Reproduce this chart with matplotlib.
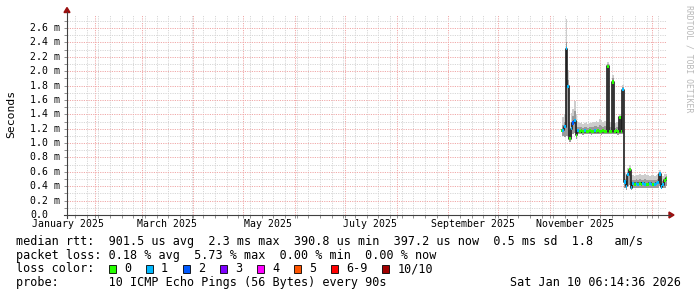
import datetime as dt
import pandas as pd
import matplotlib.pyplot as plt
import matplotlib.dates as mdates
import matplotlib.transforms as mtrans
from matplotlib.patches import Polygon, Rectangle
from matplotlib.lines import Line2D

W, H = 697, 297
MONO = "DejaVu Sans Mono"

# graph covers the last 360 days up to the time stamp
t_end = dt.datetime(2026, 1, 10, 6, 14, 36)
t_start = t_end - dt.timedelta(days=360)

month_labels = ["January 2025", "March 2025", "May 2025", "July 2025",
                "September 2025", "November 2025"]
label_months = [dt.datetime(2025, 1, 1), dt.datetime(2025, 3, 1), dt.datetime(2025, 5, 1),
                dt.datetime(2025, 7, 1), dt.datetime(2025, 9, 1), dt.datetime(2025, 11, 1)]

y_ticks = [0.0, 0.2, 0.4, 0.6, 0.8, 1.0, 1.2, 1.4, 1.6, 1.8, 2.0, 2.2, 2.4, 2.6]
y_labels = ["0.0", "0.2 m", "0.4 m", "0.6 m", "0.8 m", "1.0 m", "1.2 m", "1.4 m",
            "1.6 m", "1.8 m", "2.0 m", "2.2 m", "2.4 m", "2.6 m"]

# daily samples (ms), only the last two months have data
dates = pd.date_range("2025-11-08", "2026-01-10", freq="D")
median = [1.18, 1.18, 1.23, 2.31, 1.79, 1.06, 1.20, 1.28, 1.31, 1.11,
          1.17, 1.16, 1.17, 1.16, 1.17, 1.16, 1.16, 1.17, 1.16, 1.16,
          1.17, 1.16, 1.17, 1.16, 1.16, 1.17, 1.16, 1.16, 2.07, 1.16,
          1.16, 1.85, 1.16, 1.17, 1.16, 1.36, 1.16, 1.74, 0.46, 0.40,
          0.56, 0.63, 0.38, 0.44, 0.43, 0.44, 0.43, 0.44, 0.43, 0.44,
          0.43, 0.42, 0.43, 0.44, 0.43, 0.42, 0.43, 0.44, 0.45, 0.57,
          0.39, 0.42, 0.48, 0.51]
loss = [0, 1, 1, 1, 1, 0, 1, 2, 1, 0,
        1, 0, 0, 0, 1, 0, 0, 0, 0, 0,
        1, 0, 0, 0, 0, 0, 0, 0, 0, 0,
        0, 0, 0, 0, 0, 0, 0, 1, 1, 1,
        1, 0, 1, 1, 0, 1, 1, 0, 0, 1,
        1, 0, 0, 1, 1, 0, 1, 1, 1, 1,
        1, 1, 0, 0]
smoke_lo = [1.12, 1.10, 1.08, 1.10, 1.10, 1.02, 1.08, 1.12, 1.14, 1.06,
            1.12, 1.12, 1.12, 1.11, 1.12, 1.12, 1.12, 1.12, 1.11, 1.12,
            1.12, 1.12, 1.12, 1.12, 1.11, 1.12, 1.12, 1.12, 1.12, 1.12,
            1.12, 1.12, 1.12, 1.12, 1.11, 1.12, 1.12, 1.12, 0.37, 0.35,
            0.40, 0.42, 0.35, 0.38, 0.38, 0.38, 0.38, 0.38, 0.38, 0.38,
            0.38, 0.37, 0.38, 0.38, 0.38, 0.37, 0.38, 0.38, 0.38, 0.40,
            0.36, 0.37, 0.38, 0.40]
smoke_mid = [1.26, 1.25, 1.30, 2.40, 1.88, 1.18, 1.30, 1.38, 1.45, 1.24,
             1.23, 1.22, 1.23, 1.21, 1.22, 1.23, 1.21, 1.22, 1.22, 1.23,
             1.24, 1.24, 1.23, 1.25, 1.24, 1.23, 1.24, 1.23, 2.10, 1.23,
             1.22, 1.90, 1.21, 1.22, 1.23, 1.38, 1.22, 1.78, 0.50, 0.47,
             0.60, 0.66, 0.47, 0.49, 0.48, 0.50, 0.49, 0.50, 0.49, 0.49,
             0.50, 0.49, 0.48, 0.48, 0.49, 0.48, 0.48, 0.49, 0.50, 0.60,
             0.45, 0.47, 0.52, 0.54]
smoke_hi = [1.39, 1.36, 1.40, 2.73, 2.02, 1.30, 1.42, 1.48, 1.58, 1.40,
            1.30, 1.28, 1.29, 1.27, 1.28, 1.29, 1.27, 1.28, 1.28, 1.29,
            1.30, 1.31, 1.30, 1.33, 1.32, 1.30, 1.31, 1.30, 2.13, 1.30,
            1.29, 1.95, 1.28, 1.29, 1.30, 1.40, 1.29, 1.81, 0.58, 0.54,
            0.66, 0.70, 0.56, 0.55, 0.54, 0.56, 0.55, 0.57, 0.56, 0.55,
            0.57, 0.56, 0.55, 0.54, 0.56, 0.55, 0.54, 0.56, 0.57, 0.63,
            0.51, 0.54, 0.57, 0.57]

loss_names = ["0", "1", "2", "3", "4", "5", "6-9", "10/10"]
loss_colors = ["#26ff00", "#00b8ff", "#0059ff", "#7e00ff", "#ff00ff", "#ff5500",
               "#ff0000", "#a10000"]


def fx(px):
    return px / W


def fy(py):
    return 1 - py / H


fig = plt.figure(figsize=(W / 100, H / 100), dpi=100)
fig.patch.set_facecolor("white")
ax = fig.add_axes([fx(67), fy(215), 600 / W, 200 / H])
ax.set_facecolor("white")
ax.set_xlim(t_start, t_end)
ax.set_ylim(0, 200 / 71.9)

# grid: weeks / months, 0.1 / 0.2 ms
ax.xaxis.set_major_locator(mdates.MonthLocator())
ax.xaxis.set_minor_locator(mdates.WeekdayLocator(byweekday=mdates.MO))
ax.set_yticks(y_ticks)
ax.set_yticks([v / 10 for v in range(1, 28, 2)], minor=True)
ax.grid(which="minor", color="#d6d6d6", linestyle=(0, (1.2, 1.2)), linewidth=0.7)
ax.grid(which="major", color="#f0a8a8", linestyle=(0, (1.2, 1.2)), linewidth=0.7)
ax.tick_params(which="both", labelbottom=False, labelleft=False,
               length=2, width=0.7, color="#909090")
for s in ax.spines.values():
    s.set_visible(False)

# smoke
ax.fill_between(dates, smoke_lo, smoke_hi, step="mid", color="#cdcdcd", lw=0, zorder=2)
ax.fill_between(dates, smoke_lo, smoke_mid, step="mid", color="#9a9a9a", lw=0, zorder=2)

# median line and loss coloured bands
ax.plot(dates, median, drawstyle="steps-mid", color="#202020", lw=1.2, zorder=3)
sw = 0.022
ax.bar(dates, [2 * sw] * len(median), bottom=[m - sw for m in median],
       width=1.0, color=[loss_colors[l] for l in loss], linewidth=0, zorder=4)

# x labels are centred half a month after the month start
xt = mtrans.blended_transform_factory(ax.transData, fig.transFigure)
for lab, m in zip(month_labels, label_months):
    ax.text(mdates.date2num(m + dt.timedelta(days=15)), fy(224), lab, transform=xt,
            ha="center", va="center", family=MONO, fontsize=7.1, clip_on=False)

yt = mtrans.blended_transform_factory(fig.transFigure, ax.transData)
for lab, v in zip(y_labels, y_ticks):
    ax.text(fx(30), v, lab, transform=yt, ha="left", va="center",
            family=MONO, fontsize=7.1, clip_on=False)

# axes with arrows
tf = fig.transFigure
fig.add_artist(Line2D([fx(64), fx(670)], [fy(215), fy(215)], color="#404040", lw=0.8, transform=tf))
fig.add_artist(Line2D([fx(67), fx(67)], [fy(218), fy(12)], color="#404040", lw=0.8, transform=tf))
fig.add_artist(Polygon([[fx(669), fy(212)], [fx(674), fy(215)], [fx(669), fy(218)]],
                       closed=True, color="#9a1010", transform=tf))
fig.add_artist(Polygon([[fx(64), fy(12.5)], [fx(67), fy(7.5)], [fx(70), fy(12.5)]],
                       closed=True, color="#9a1010", transform=tf))

fig.text(fx(11), fy(114), "Seconds", rotation=90, ha="center", va="center",
         family=MONO, fontsize=8.2)
fig.text(fx(689), fy(59), "RRDTOOL / TOBI OETIKER", rotation=270, ha="center",
         va="center", family=MONO, fontsize=5.9, color="#b8b8b8")

# legend
lg = dict(family=MONO, fontsize=8.45, va="center", ha="left")
fig.text(fx(16), fy(241.5),
         "median rtt:  901.5 us avg  2.3 ms max  390.8 us min  397.2 us now  0.5 ms sd  1.8   am/s", **lg)
fig.text(fx(16), fy(255), "packet loss: 0.18 % avg  5.73 % max  0.00 % min  0.00 % now", **lg)
fig.text(fx(16), fy(269), "loss color:", **lg)
bx = 108.7
for name, col in zip(loss_names, loss_colors):
    fig.add_artist(Rectangle((fx(bx), fy(273)), 7 / W, 8 / H, facecolor=col,
                             edgecolor="black", lw=0.6, transform=tf))
    fig.text(fx(bx + 15.3), fy(269), name, **lg)
    bx += 15.3 + 7.05 * len(name) + 14.7
fig.text(fx(16), fy(282.5), "probe:       10 ICMP Echo Pings (56 Bytes) every 90s", **lg)
fig.text(fx(681), fy(282.5), "Sat Jan 10 06:14:36 2026", family=MONO, fontsize=8.45,
         va="center", ha="right")

fig.savefig("out.png", dpi=100)
